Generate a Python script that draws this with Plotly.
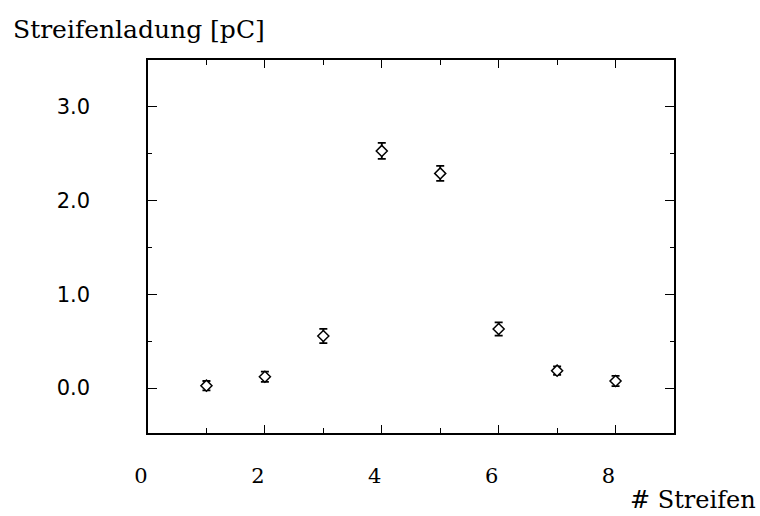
import plotly.graph_objects as go

strips = [1, 2, 3, 4, 5, 6, 7, 8]
charge = [0.025, 0.12, 0.555, 2.53, 2.29, 0.63, 0.185, 0.075]
charge_err = [0.05, 0.055, 0.075, 0.085, 0.08, 0.07, 0.045, 0.055]
y_ticks = [0, 1, 2, 3]
x_ticks = [0, 2, 4, 6, 8]

fig = go.Figure()
fig.add_trace(go.Scatter(
    x=strips, y=charge, mode="markers",
    marker=dict(symbol="diamond", size=8.5, color="white", line=dict(width=1.5, color="black")),
    error_y=dict(type="data", array=charge_err, visible=True, color="black", thickness=1.8, width=4),
    showlegend=False,
))

fig.update_layout(
    width=760, height=516,
    margin=dict(l=148, r=86, t=60, b=83),
    paper_bgcolor="white", plot_bgcolor="white",
    xaxis=dict(
        range=[0, 9], tickvals=x_ticks, ticks="inside", ticklen=8, tickwidth=1.2,
        tickcolor="black", showline=True, linecolor="black", linewidth=1.5, mirror="ticks",
        showgrid=False, zeroline=False,
        minor=dict(dtick=1, tick0=0, ticks="inside", ticklen=5, tickcolor="black", showgrid=False),
        tickfont=dict(family="DejaVu Serif", size=21, color="black"),
        ticklabelshift=-7, ticklabelstandoff=23,
    ),
    yaxis=dict(
        range=[-0.48, 3.5], tickvals=y_ticks, tickformat=".1f", ticks="inside", ticklen=9,
        tickwidth=1.2, tickcolor="black", showline=True, linecolor="black", linewidth=1.5,
        mirror="ticks", showgrid=False, zeroline=False,
        minor=dict(dtick=0.5, tick0=0, ticks="inside", ticklen=4, tickcolor="black", showgrid=False),
        tickfont=dict(family="DejaVu Sans", size=21, color="black"),
        ticklabelstandoff=52,
    ),
    annotations=[
        dict(text="Streifenladung [pC]", x=11, y=30, xref="paper", yref="paper", showarrow=False,
             font=dict(family="DejaVu Serif", size=25, color="black"), xanchor="left", yanchor="middle"),
        dict(text="# Streifen", x=758, y=500, xref="paper", yref="paper", showarrow=False,
             font=dict(family="DejaVu Serif", size=24, color="black"), xanchor="right", yanchor="middle"),
    ],
)

# convert pixel positions of annotations into paper coords
pw = 760 - 148 - 86
ph = 516 - 60 - 83
for a in fig.layout.annotations:
    px, py = a.x, a.y
    a.x = (px - 148) / pw
    a.y = 1 - (py - 60) / ph

fig.write_html("out.html")
